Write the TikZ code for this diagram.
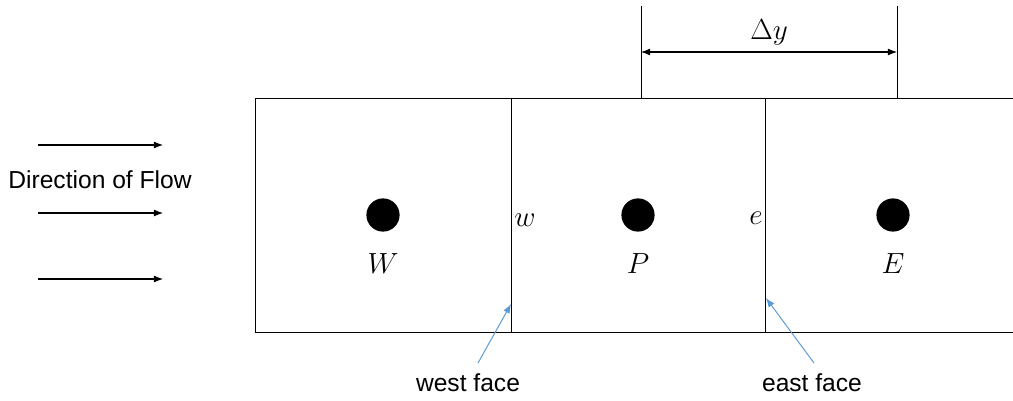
\documentclass[tikz,border=0pt]{standalone}
\usepackage{fontspec}
\setmainfont{Liberation Sans}
\usetikzlibrary{arrows,arrows.meta}
\usepackage{xcolor}
\definecolor{faceblue}{RGB}{91,155,213}

\begin{document}
\begin{tikzpicture}[x=0.025cm,y=-0.025cm]
    \useasboundingbox (0,0) rectangle (1013,401);
    \tikzset{wall/.style = {draw,line width=0.7pt}}
    \tikzset{centre/.style = {shape=circle,fill=black,minimum size=0.83cm,inner sep=0pt}}
    \tikzset{sym/.style = {font=\fontsize{20}{24}\selectfont}}
    \tikzset{txt/.style = {font=\fontsize{17.5}{20}\selectfont}}
    \tikzset{flow/.style = {-{Latex[length=6.5pt,width=5pt]},line width=0.8pt}}
    \tikzset{pointer/.style = {-{Latex[length=6.5pt,width=5pt]},faceblue,line width=0.7pt}}
    % cells
    \coordinate (tl) at (255,98);
    \coordinate (bl) at (255,332);
    \coordinate (tr) at (1013,98);
    \coordinate (br) at (1013,332);
    \coordinate (wt) at (511,98);
    \coordinate (wb) at (511,332);
    \coordinate (et) at (765,98);
    \coordinate (eb) at (765,332);
    \draw[wall] (tr) -- (tl) -- (bl) -- (br);
    \draw[wall] (wt) -- (wb);
    \draw[wall] (et) -- (eb);
    % nodes
    \node[centre] (W) at (383,215) {};
    \node[centre] (P) at (638,215) {};
    \node[centre] (E) at (893,215) {};
    \node[sym] (Wlab) at (383,264) {$W$};
    \node[sym] (Plab) at (638,264) {$P$};
    \node[sym] (Elab) at (893,264) {$E$};
    \node[sym] (wlab) at (525,220) {$w$};
    \node[sym] (elab) at (756,218) {$e$};
    % spacing
    \coordinate (d1) at (641,6);
    \coordinate (d1b) at (641,98);
    \coordinate (d2) at (897,6);
    \coordinate (d2b) at (897,98);
    \coordinate (a1) at (641,52);
    \coordinate (a2) at (897,52);
    \draw[wall] (d1) -- (d1b);
    \draw[wall] (d2) -- (d2b);
    \draw[flow,{Latex[length=6.5pt,width=5pt]}-{Latex[length=6.5pt,width=5pt]}] (a1) -- (a2);
    \node[sym] (dy) at (769,32) {$\Delta y$};
    % flow
    \node[txt] (dir) at (100,180) {Direction of Flow};
    \foreach \i/\y in {1/145,2/213,3/279} {
        \coordinate (f\i s) at (38,\y);
        \coordinate (f\i e) at (163,\y);
        \draw[flow] (f\i s) -- (f\i e);
    }
    % faces
    \node[txt] (west) at (468,383) {west face};
    \node[txt] (east) at (812,383) {east face};
    \coordinate (wtip) at (511,304);
    \coordinate (etip) at (766,298);
    \coordinate (wtail) at (478,363);
    \coordinate (etail) at (814,363);
    \draw[pointer] (wtail) to (wtip);
    \draw[pointer] (etail) to (etip);
\end{tikzpicture}
\end{document}
